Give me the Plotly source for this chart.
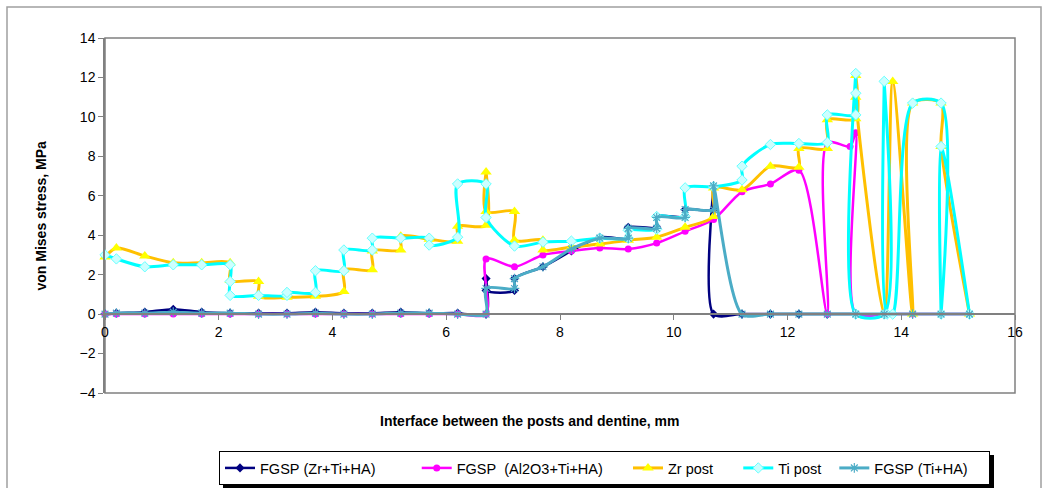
import plotly.graph_objects as go

# ---- data ----
navy_x = [0, 0.2, 0.7, 1.2, 1.7, 2.2, 2.7, 3.2, 3.7, 4.2, 4.7, 5.2, 5.7, 6.2,
          6.7, 6.7, 6.7, 7.2, 7.2, 7.7, 8.2, 8.7, 9.2, 9.2, 9.7, 9.7, 10.2, 10.2,
          10.7, 10.7, 10.7, 11.2, 11.7, 12.2, 12.7, 13.2]
navy_y = [0, 0.05, 0.1, 0.25, 0.1, 0.05, 0.05, 0.05, 0.1, 0.05, 0.05, 0.1, 0.05, 0.05,
          0, 1.8, 1.2, 1.2, 1.8, 2.4, 3.2, 3.9, 3.85, 4.4, 4.4, 4.95, 4.95, 5.3,
          5.3, 6.5, 0, 0, 0, 0, 0, 0]

mag_x = [0, 0.2, 0.7, 1.2, 1.7, 2.2, 2.7, 3.2, 3.7, 4.2, 4.7, 5.2, 5.7, 6.2,
         6.7, 6.7, 7.2, 7.7, 8.2, 8.7, 9.2, 9.7, 10.2, 10.7, 11.2, 11.7, 12.2,
         12.7, 12.7, 13.1, 13.2, 13.2, 13.7, 14.2, 14.7, 15.2]
mag_y = [0, 0, 0, 0, 0, 0, 0, 0, 0, 0, 0, 0, 0, 0,
         0, 2.8, 2.4, 3.0, 3.2, 3.35, 3.3, 3.6, 4.2, 4.8, 6.2, 6.6, 7.3,
         0, 8.7, 8.5, 9.2, 0, 0, 0, 0, 0]

zr_x = [0, 0.2, 0.7, 1.2, 1.7, 2.2, 2.2, 2.7, 2.7, 3.2, 3.7, 4.2, 4.2, 4.7, 4.7,
        5.2, 5.2, 5.7, 6.2, 6.2, 6.7, 6.7, 6.7, 7.2, 7.2, 7.7, 7.7, 8.2, 8.7,
        9.2, 9.7, 10.2, 10.7, 10.7, 11.2, 11.7, 12.2, 12.2, 12.7, 12.7, 13.2,
        13.2, 13.2, 13.7, 13.85, 14.2, 14.2, 14.7, 14.7, 15.2]
zr_y = [2.9, 3.35, 2.95, 2.6, 2.6, 2.6, 1.7, 1.65, 0.9, 0.85, 0.9, 1.15, 2.25, 2.25, 3.2,
        3.25, 3.95, 3.8, 3.7, 4.45, 4.5, 7.2, 5.2, 5.2, 3.75, 3.75, 3.25, 3.4, 3.55,
        3.75, 3.9, 4.4, 4.95, 6.4, 6.3, 7.5, 7.45, 8.4, 8.4, 9.85, 9.9,
        12.1, 11.0, 0, 11.8, 0, 10.7, 10.7, 8.5, 0]

ti_x = [0, 0.2, 0.7, 1.2, 1.7, 2.2, 2.2, 2.2, 2.7, 3.2, 3.2, 3.7, 3.7, 4.2, 4.2,
        4.7, 4.7, 5.2, 5.7, 5.7, 6.2, 6.2, 6.7, 6.7, 7.2, 7.7, 8.2, 8.7, 9.2, 9.2,
        9.7, 9.7, 10.2, 10.2, 10.7, 11.2, 11.2, 11.7, 12.2, 12.7, 12.7, 13.2, 13.2,
        13.2, 13.2, 13.7, 13.7, 13.75, 13.85, 14.2, 14.7, 14.7, 14.7, 15.2]
ti_y = [3.0, 2.8, 2.4, 2.5, 2.5, 2.5, 1.65, 0.95, 0.95, 0.95, 1.1, 1.1, 2.2, 2.2, 3.25,
        3.25, 3.85, 3.85, 3.85, 3.5, 3.9, 6.6, 6.6, 4.9, 3.45, 3.65, 3.7, 3.85, 3.85, 4.25,
        4.3, 4.95, 4.95, 6.4, 6.45, 6.8, 7.5, 8.6, 8.65, 8.7, 10.1, 10.1, 11.2,
        12.2, 0, 0, 11.8, 0, 0, 10.7, 10.7, 0, 8.5, 0]

tiha_x = [0, 0.2, 0.7, 1.2, 1.7, 2.2, 2.7, 3.2, 3.7, 4.2, 4.7, 5.2, 5.7, 6.2,
          6.7, 6.7, 7.2, 7.2, 7.7, 8.2, 8.7, 9.2, 9.2, 9.7, 9.7, 10.2, 10.2,
          10.7, 10.7, 11.2, 11.7, 12.2, 12.7, 13.2, 13.7, 14.2, 14.7, 15.2]
tiha_y = [0, 0.05, 0.05, 0.1, 0.05, 0.05, 0, 0, 0.05, 0, 0, 0.05, 0.05, 0,
          0, 1.3, 1.3, 1.8, 2.4, 3.3, 3.85, 3.85, 4.35, 4.35, 4.9, 4.9, 5.3,
          5.3, 6.5, 0, 0, 0, 0, 0, 0, 0, 0, 0]

series_names = ["FGSP (Zr+Ti+HA)", "FGSP  (Al2O3+Ti+HA)", "Zr post", "Ti post", "FGSP (Ti+HA)"]
x_ticks = [0, 2, 4, 6, 8, 10, 12, 14, 16]
y_ticks = [-4, -2, 0, 2, 4, 6, 8, 10, 12, 14]

FONT = "Liberation Sans, Arial, sans-serif"
SMOOTH = 0.8
NB = "\u00a0"
# extra spacing after each legend entry (non-breaking spaces) to mimic the wide Excel legend
legend_pad = [9, 5, 5, 2, 4]


def lname(i):
    return series_names[i].replace(" ", NB) + NB * legend_pad[i]


fig = go.Figure()
fig.add_trace(go.Scatter(
    x=navy_x, y=navy_y, name=lname(0), mode="lines+markers",
    line=dict(color="#000080", width=2.5, shape="spline", smoothing=SMOOTH),
    marker=dict(symbol="diamond", size=7, color="#000080"), cliponaxis=False))
fig.add_trace(go.Scatter(
    x=mag_x, y=mag_y, name=lname(1), mode="lines+markers",
    line=dict(color="#FF00FF", width=2.5, shape="spline", smoothing=SMOOTH),
    marker=dict(symbol="circle", size=7, color="#FF00FF"), cliponaxis=False))
fig.add_trace(go.Scatter(
    x=zr_x, y=zr_y, name=lname(2), mode="lines+markers",
    line=dict(color="#FFC000", width=3, shape="spline", smoothing=SMOOTH),
    marker=dict(symbol="triangle-up", size=10, color="#FFFF00",
                line=dict(color="#FFFF00", width=0)), cliponaxis=False))
fig.add_trace(go.Scatter(
    x=ti_x, y=ti_y, name=lname(3), mode="lines+markers",
    line=dict(color="#00FFFF", width=3, shape="spline", smoothing=SMOOTH),
    marker=dict(symbol="diamond", size=8, color="#CCFFFF",
                line=dict(color="#66FFFF", width=1)), cliponaxis=False))
fig.add_trace(go.Scatter(
    x=tiha_x, y=tiha_y, name=lname(4), mode="lines+markers",
    line=dict(color="#4BACC6", width=3, shape="spline", smoothing=SMOOTH),
    marker=dict(symbol="asterisk-open", size=8,
                line=dict(color="#99CCFF", width=1.2)), cliponaxis=False))

L, R, T, B = 105, 33, 38, 95
W, H = 1048, 488
pw, ph = W - L - R, H - T - B


def px(x):
    return (x - L) / pw


def py(y):
    return (H - B - y) / ph


fig.update_layout(
    width=W, height=H,
    margin=dict(l=L, r=R, t=T, b=B, autoexpand=False),
    paper_bgcolor="white", plot_bgcolor="white",
    font=dict(family=FONT, size=14, color="#000000"),
    xaxis=dict(range=[0, 16], tickvals=x_ticks, showgrid=False, zeroline=False,
               showline=True, linecolor="#808080", linewidth=1.5,
               ticks="outside", ticklen=5, tickcolor="#808080",
               anchor="free", position=4 / 18, tickfont=dict(size=14)),
    yaxis=dict(range=[-4, 14], tickvals=y_ticks, showgrid=False, zeroline=False,
               showline=True, linecolor="#808080", linewidth=1.5,
               ticks="outside", ticklen=5, tickcolor="#808080",
               tickfont=dict(size=14)),
    showlegend=True,
    legend=dict(orientation="h", x=px(219), xanchor="left", y=py(451), yanchor="top",
                bgcolor="white", bordercolor="#000000", borderwidth=1,
                font=dict(family=FONT, size=14.5, color="#000000"),
                itemwidth=30, tracegroupgap=0),
    shapes=[
        dict(type="rect", xref="paper", yref="paper", x0=0, x1=1, y0=0, y1=1,
             line=dict(color="#808080", width=1.5), layer="below"),
        dict(type="rect", xref="paper", yref="paper",
             x0=px(7), x1=px(1041), y0=py(497), y1=py(7),
             line=dict(color="#A0A0A0", width=1.5)),
        dict(type="rect", xref="paper", yref="paper",
             x0=px(223), x1=px(994), y0=py(490), y1=py(455),
             line=dict(width=0), fillcolor="#000000", layer="above"),
    ],
    annotations=[
        dict(text="<b>von Mises stress, MPa</b>", xref="paper", yref="paper",
             x=px(40), y=0.5, textangle=-90, showarrow=False,
             xanchor="center", yanchor="middle", font=dict(size=14, family=FONT)),
        dict(text="<b>Interface between the posts and dentine, mm</b>", xref="paper",
             yref="paper", x=px(530), y=py(421), showarrow=False,
             xanchor="center", yanchor="middle", font=dict(size=14, family=FONT)),
    ],
)

fig.write_html("out.html")
